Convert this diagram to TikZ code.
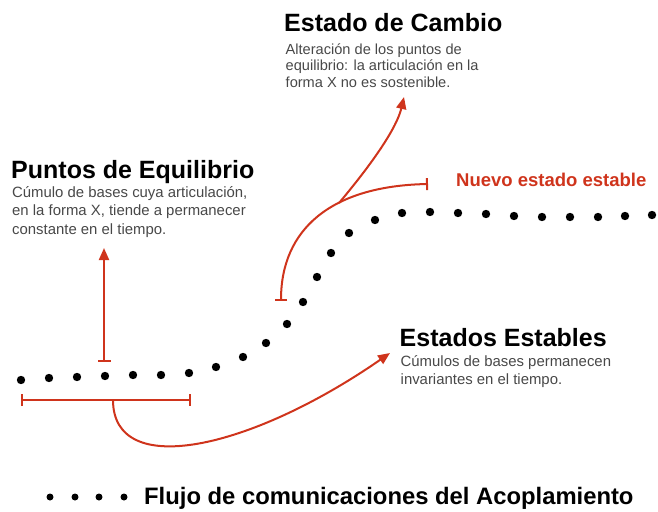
\documentclass[tikz,border=0pt]{standalone}
\usepackage{fontspec}
\setmainfont{Liberation Sans}
\usetikzlibrary{arrows.meta}
\definecolor{flujored}{RGB}{207,52,28}
\definecolor{notegray}{RGB}{72,72,72}
\tikzset{
  dot/.style={circle, fill, inner sep=0, minimum size=8.4pt},
  smalldot/.style={circle, fill, inner sep=0, minimum size=7pt},
  heading/.style={anchor=base west, inner sep=0, font=\bfseries\fontsize{25}{30}\selectfont},
  note/.style={anchor=base west, inner sep=0, align=left, text=notegray, font=\fontsize{14.9}{18.3}\selectfont},
  link/.style={draw=flujored, line width=2pt},
  tip/.style={-{Triangle[length=12pt,width=10pt]}},
}
\begin{document}
\begin{tikzpicture}[x=1pt, y=-1pt]
\useasboundingbox (0,0) rectangle (658,511);
\foreach \px/\py [count=\i] in {21/380, 49/378, 77/377, 105/376, 133/375, 161/375, 189/373, 216/367, 243/357, 266/343, 287/324, 303/302, 317/277, 331/253, 349/233, 375/220, 402/213, 430/212, 458/213, 486/214, 514/216, 542/217, 570/217, 598/217, 625/216, 652/215}
  \node[dot] (d\i) at (\px,\py){};

\node[heading] (eqh) at (11,178.3){Puntos de Equilibrio};
\node[note] (eqn) at (12,234.1){Cúmulo de bases cuya articulación,\\en la forma X, tiende a permanecer\\constante en el tiempo.};
\node[heading] (cah) at (284,32){Estado de Cambio};
\node[note, font=\fontsize{14.6}{16.7}\selectfont] (can) at (285.5,87.4){Alteración de los puntos de\\equilibrio: la articulación en la\\forma X no es sostenible.};
\node[heading] (esh) at (399.5,346){Estados Estables};
\node[note] (esn) at (400.5,384.3){Cúmulos de bases permanecen\\invariantes en el tiempo.};
\node[anchor=base west, inner sep=0, text=flujored, font=\bfseries\fontsize{18.5}{22}\selectfont] (nue) at (456,186.7){Nuevo estado estable};

% rango de equilibrio
\coordinate (rl) at (21,400);
\coordinate (rr) at (191,400);
\coordinate (rm) at (113,400);
\coordinate (et) at (390,353);
\draw[link, {Bar[width=12pt]}-{Bar[width=12pt]}] (rl) -- (rr);
\draw[link, tip] (rm) .. controls (113,480) and (250,450) .. (et);

\coordinate (qb) at (104,362);
\coordinate (qt) at (104,248);
\draw[link, {Bar[width=13pt]}-{Triangle[length=12pt,width=10pt]}] (qb) -- (qt);

% cambio
\coordinate (cb) at (281,301);
\coordinate (cn) at (428,184);
\coordinate (cj) at (339,203);
\coordinate (ct) at (404,97);
\draw[link, {Bar[width=12pt]}-{Bar[width=12pt]}] (cb) .. controls (281,230) and (330,186) .. (cn);
\draw[link, tip] (cj) .. controls (355,184) and (395,135) .. (ct);

% leyenda
\foreach \px [count=\i] in {50,75,99,124}
  \node[smalldot] (l\i) at (\px,497){};
\node[heading, font=\bfseries\fontsize{23.8}{28}\selectfont] (ley) at (144,504.7){Flujo de comunicaciones del Acoplamiento};
\end{tikzpicture}
\end{document}
